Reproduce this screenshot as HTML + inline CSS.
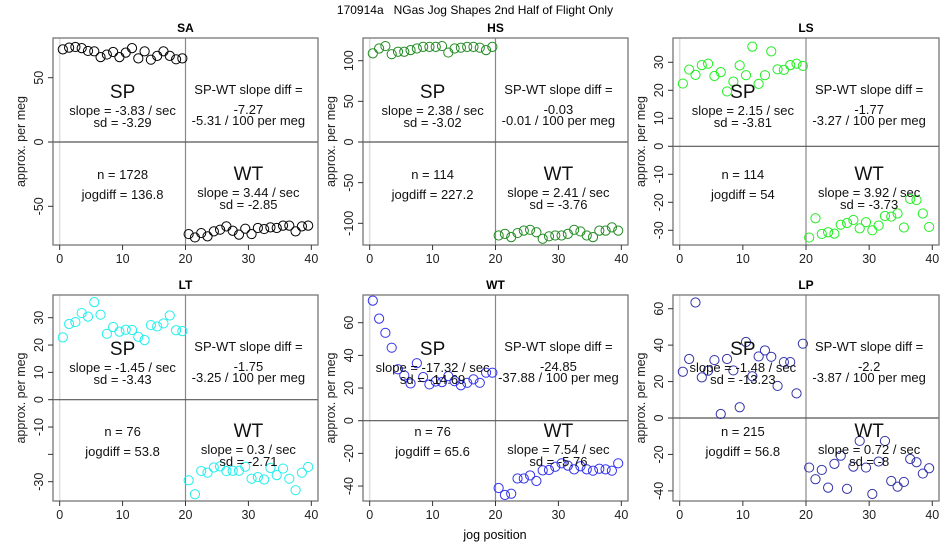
<!DOCTYPE html>
<html><head><meta charset="utf-8"><style>
html,body{margin:0;padding:0;background:#fff;}
svg{display:block;font-family:"Liberation Sans",sans-serif;}
</style></head><body>
<svg id="chart" width="950" height="550" viewBox="0 0 950 550">
<text x="475" y="14" text-anchor="middle" font-size="12" style="white-space:pre">170914a   NGas Jog Shapes 2nd Half of Flight Only</text>
<text x="495" y="539" text-anchor="middle" font-size="12.5">jog position</text>
</svg>
<script>
const xTicks=[0,10,20,30,40];
const saSP=[72,73.4,73.9,73,70.8,70.5,66,68,70,66,69.5,73,65,70.5,64,67,70.5,67,64.3,65];
const saWT=[-71.6,-74.2,-70.8,-73.4,-69.5,-68.2,-65.6,-69,-72,-67.4,-71.6,-66.9,-67.7,-66.4,-66.9,-65,-65,-69.5,-65.6,-65];
const hsSP=[109,115,118,108,111,111,113,115,117,117,117,118,110,115,116,117,117,116,113,117];
const hsWT=[-115,-113,-117,-112,-109,-108,-111,-119,-116,-115,-115,-113,-108,-110,-115,-117,-109,-109,-105,-109];
const lsSP=[22.4,27.4,25.5,29,29.5,25.1,26.5,19.6,23.1,28.9,25.4,35.6,22.3,25.4,33.9,27.5,27.3,29,29.5,28.7];
const lsWT=[-32.6,-25.7,-31.3,-30.7,-31.2,-28,-27.4,-26.3,-29.3,-27.1,-30,-28.3,-24.9,-25.1,-24,-29,-18.8,-19.2,-24,-28.8];
const ltSP=[22.8,27.7,28.4,31.7,30.4,35.7,31.1,24.1,26.6,24.9,25.6,25.5,23,21.8,27.3,26.8,27.9,30.8,25.4,25.1];
const ltWT=[-29.5,-34.6,-26.1,-26.7,-24.8,-24.4,-26.1,-26,-26,-24.5,-28.9,-28.3,-29.2,-25,-27.6,-25.2,-28.9,-33.1,-26.7,-24.6];
const wtSP=[73.5,62.5,53.8,44.7,31.5,27.7,22.8,35.2,26.7,22.2,24,23.6,27.3,24.2,21.7,23.2,25.3,23.2,29.4,29.4];
const wtWT=[-41.2,-45.5,-44.7,-35.4,-35.4,-33.5,-36.9,-30.4,-30.2,-28.2,-26.1,-27.5,-29.8,-27.9,-29.8,-30.6,-29.4,-29.8,-30.6,-26.1];
const lpSP=[25.4,32.4,63.4,22.3,26,31.8,2.2,32.4,26.1,5.9,41.7,22.9,33.8,37.1,33.6,17.6,30.7,30.7,13.5,40.8];
const lpWT=[-27.2,-33.6,-28.5,-38.2,-25.2,-20.7,-38.9,-26.7,-12.6,-27.2,-41.7,-23.9,-12.6,-34.6,-37.7,-35.1,-22.5,-24.3,-30.5,-27.6];
const saText=["-3.83","-3.29","-7.27","-5.31","1728","136.8","3.44","-2.85"];
const hsText=["2.38","-3.02","-0.03","-0.01","114","227.2","2.41","-3.76"];
const lsText=["2.15","-3.81","-1.77","-3.27","114","54","3.92","-3.73"];
const ltText=["-1.45","-3.43","-1.75","-3.25","76","53.8","0.3","-2.71"];
const wtText=["-17.32","-14.69","-24.85","-37.88","76","65.6","7.54","-5.76"];
const lpText=["-1.48","-13.23","-2.2","-3.87","215","56.8","0.72","-8"];
const saTicks=[-50,0,50],hsTicks=[-100,-50,0,50,100],lsTicks=[-30,-20,-10,0,10,20,30];
const ltTicks=[-30,-20,-10,0,10,20,30],wtTicks=[-40,-20,0,20,40,60],lpTicks=[-40,-20,0,20,40,60];
const NS="http://www.w3.org/2000/svg";
const svg=document.getElementById('chart');
function mk(tag,attrs,parent,txt){const e=document.createElementNS(NS,tag);for(const k in attrs)e.setAttribute(k,attrs[k]);if(txt!==undefined)e.textContent=txt;(parent||svg).appendChild(e);return e;}
const panels=[
 {name:'sa',title:'SA',L:53,R:318,T:38,B:245,y0:[0,142],y1:[50,77.7],sp:saSP,wt:saWT,col:'#000',txt:saText,ticks:saTicks,skip:[]},
 {name:'hs',title:'HS',L:363,R:628,T:38,B:245,y0:[0,142],y1:[100,60.7],sp:hsSP,wt:hsWT,col:'#228b22',txt:hsText,ticks:hsTicks,skip:[]},
 {name:'ls',title:'LS',L:673,R:939,T:38,B:245,y0:[0,146.3],y1:[30,62.3],sp:lsSP,wt:lsWT,col:'#22ee22',txt:lsText,ticks:lsTicks,skip:[]},
 {name:'lt',title:'LT',L:53,R:318,T:295,B:501,y0:[0,399.7],y1:[30,317.7],sp:ltSP,wt:ltWT,col:'#22eeee',txt:ltText,ticks:ltTicks,skip:[-20]},
 {name:'wt',title:'WT',L:363,R:628,T:295,B:501,y0:[0,420.7],y1:[60,322.7],sp:wtSP,wt:wtWT,col:'#3333ee',txt:wtText,ticks:wtTicks,skip:[]},
 {name:'lp',title:'LP',L:673,R:939,T:295,B:501,y0:[0,418],y1:[60,308.7],sp:lpSP,wt:lpWT,col:'#3333aa',txt:lpText,ticks:lpTicks,skip:[]}
];
panels.forEach(p=>{
 const g=mk('g',{});
 
 
 const xs=v=>p.L+(v+1.06)/42.12*(p.R-p.L);
 const k=(p.y1[1]-p.y0[1])/(p.y1[0]-p.y0[0]);
 const ys=v=>p.y0[1]+(v-p.y0[0])*k;
 mk('line',{x1:xs(0),x2:xs(0),y1:p.T,y2:p.B,stroke:'#ddd','stroke-width':1.5},g);
 mk('line',{x1:xs(20),x2:xs(20),y1:p.T,y2:p.B,stroke:'#888','stroke-width':1.2},g);
 mk('line',{x1:p.L,x2:p.R,y1:ys(0),y2:ys(0),stroke:'#555','stroke-width':1.2},g);
 const box=mk('rect',{x:p.L,y:p.T,width:p.R-p.L,height:p.B-p.T,fill:'none',stroke:'#777','stroke-width':1.3},g);
 
 
 const t=mk('text',{x:(p.L+p.R)/2,y:p.T-6,'text-anchor':'middle','font-size':12,'font-weight':'bold'},g,p.title);
 
 
 xTicks.forEach(v=>{
  mk('line',{x1:xs(v),x2:xs(v),y1:p.B,y2:p.B+5,stroke:'#333'},g);
  const l=mk('text',{x:xs(v),y:p.B+18,'text-anchor':'middle','font-size':12.5,fill:'#222'},g,v);
  
  
 });
 p.ticks.forEach(v=>{
  const yy=ys(v);
  mk('line',{x1:p.L-5,x2:p.L,y1:yy,y2:yy,stroke:'#333'},g);
  if(p.skip.indexOf(v)<0){
   const l=mk('text',{x:p.L-10,y:yy,'text-anchor':'middle','font-size':12.5,fill:'#222',transform:'rotate(-90 '+(p.L-10)+' '+yy+')'},g,v);
   
   
  }
 });
 const yl=mk('text',{x:p.L-28,y:(p.T+p.B)/2,'text-anchor':'middle','font-size':12.5,fill:'#222',transform:'rotate(-90 '+(p.L-28)+' '+((p.T+p.B)/2)+')'},g,'approx. per meg');
 
 
 p.sp.forEach((v,i)=>{
  const c=mk('circle',{cx:xs(i+0.5),cy:ys(v),r:4.6,fill:'none',stroke:p.col,'stroke-width':1},g);
  
  
 });
 p.wt.forEach((v,i)=>{
  const c=mk('circle',{cx:xs(i+20.5),cy:ys(v),r:4.6,fill:'none',stroke:p.col,'stroke-width':1},g);
  
  
 });
 const cx1=xs(10),cx2=xs(30),T=p.T,s=p.txt;
 const lines=[
  [cx1,T+60,19,'SP','sp-label'],[cx1,T+77,13,'slope = '+s[0]+' / sec','sp-slope'],[cx1,T+89,13,'sd = '+s[1],'sp-sd'],
  [cx2,T+56,13,'SP-WT slope diff =','diff-label'],[cx2,T+76,13,s[2],'diff-value'],[cx2,T+87,13,s[3]+' / 100 per meg','diff-per-meg'],
  [cx1,T+141,13,'n = '+s[4],'n-count'],[cx1,T+161,13,'jogdiff = '+s[5],'jogdiff'],
  [cx2,T+142,19,'WT','wt-label'],[cx2,T+159,13,'slope = '+s[6]+' / sec','wt-slope'],[cx2,T+171,13,'sd = '+s[7],'wt-sd']
 ];
 lines.forEach(a=>{
  const e=mk('text',{x:a[0],y:a[1],'text-anchor':'middle','font-size':a[2],fill:'#111'},g,a[3]);
  
  
 });
});
</script>
</body></html>
